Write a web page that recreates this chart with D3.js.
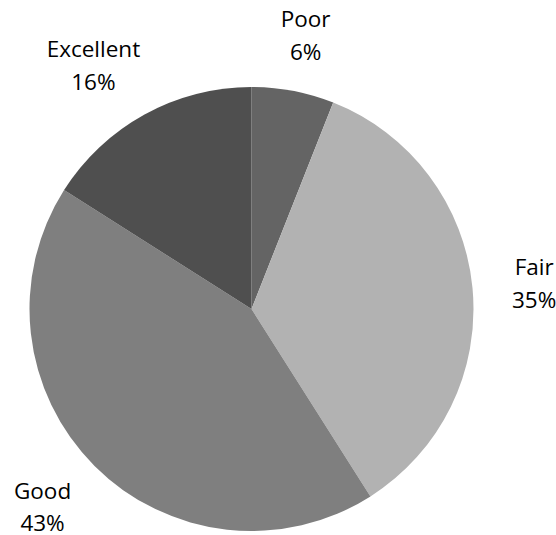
<!DOCTYPE html>
<html>
<head>
<meta charset="utf-8">
<script src="https://cdn.jsdelivr.net/npm/d3@7/dist/d3.min.js"></script>
<style>
  html, body { margin: 0; padding: 0; background: #fff; }
  svg { display: block; }
</style>
</head>
<body>
<svg id="chart" width="556" height="535"></svg>
<script>
const categories = ["Poor", "Fair", "Good", "Excellent"];
const values = [6, 35, 43, 16];
const percentLabels = ["6%", "35%", "43%", "16%"];
const colors = ["#646464", "#b2b2b2", "#7f7f7f", "#4f4f4f"];

const width = 556, height = 535;
const cx = 251.5, cy = 309, R = 222;

const svg = d3.select("#chart");
const g = svg.append("g").attr("transform", `translate(${cx},${cy})`);

const data = categories.map((c, i) => ({ category: c, value: values[i], pct: percentLabels[i], color: colors[i] }));

const pie = d3.pie().value(d => d.value).sort(null);
const arc = d3.arc().innerRadius(0).outerRadius(R);
const arcs = pie(data);

g.selectAll("path.slice")
  .data(arcs)
  .join("path")
  .attr("class", "slice")
  .attr("d", arc)
  .attr("fill", d => d.data.color);

const fontFamily = "'Open Sans', sans-serif";
const fontSize = 22.5;
const gap = 22, hh = 35, k = 1.8;

const labels = g.selectAll("text.lbl")
  .data(arcs)
  .join("text")
  .attr("class", "lbl")
  .attr("font-family", fontFamily)
  .attr("font-size", fontSize)
  .attr("fill", "#000")
  .attr("text-anchor", "middle");

labels.each(function(d) {
  const t = d3.select(this);
  t.append("tspan").attr("x", 0).attr("dy", 0).text(d.data.category);
  t.append("tspan").attr("x", 0).attr("dy", 32.5).text(d.data.pct);
  const bb = this.getBBox();
  const hw = bb.width / 2;
  const a = (d.startAngle + d.endAngle) / 2;
  const s = Math.sin(a), c = Math.cos(a);
  const x = s * (R + gap + hw * k);
  const y = -c * (R + gap + hh);
  t.attr("transform", `translate(${x},${y - 7.5})`);
});
</script>
</body>
</html>
